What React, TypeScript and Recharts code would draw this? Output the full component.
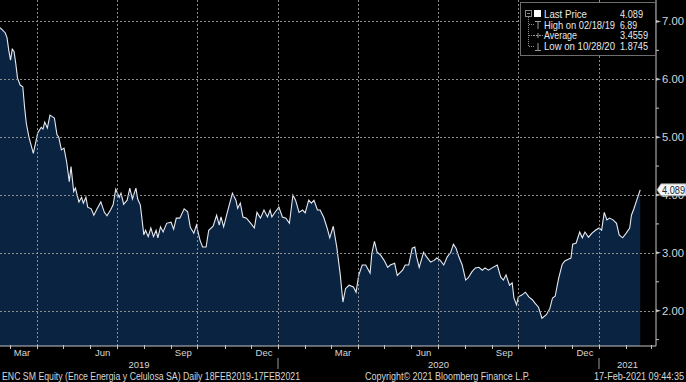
import React from 'react'
import { AreaChart, Area, XAxis, YAxis } from 'recharts'

// ENC SM Equity, daily close, day 0 = 18 Feb 2019
const days = [
  0, 3, 6, 8, 10, 12, 14, 16, 18, 20,
  23, 26, 28, 30, 33, 38, 43, 47, 49, 51,
  54, 57, 60, 62, 65, 67, 70, 73, 76, 79,
  81, 84, 86, 90, 93, 95, 98, 100, 104, 107,
  111, 115, 119, 122, 126, 129, 132, 136, 138, 141,
  145, 148, 151, 155, 157, 160, 164, 166, 169, 172,
  175, 178, 180, 183, 186, 190, 195, 198, 201, 205,
  210, 214, 217, 221, 224, 228, 231, 235, 238, 243,
  247, 250, 252, 255, 259, 265, 269, 271, 274, 277,
  281, 286, 290, 293, 297, 301, 305, 308, 310, 314,
  318, 322, 326, 330, 334, 337, 341, 345, 348, 352,
  355, 358, 362, 365, 369, 373, 376, 380, 384, 388,
  391, 394, 398, 403, 406, 409, 413, 417, 422, 424,
  427, 430, 434, 438, 442, 445, 450, 453, 459, 462,
  466, 470, 473, 475, 478, 483, 486, 491, 495, 498,
  502, 506, 510, 514, 517, 520, 523, 527, 531, 534,
  538, 542, 546, 550, 553, 557, 561, 567, 571, 574,
  577, 581, 584, 586, 589, 591, 595, 599, 603, 607,
  610, 614, 618, 623, 627, 630, 633, 637, 641, 644,
  648, 651, 653, 657, 661, 664, 667, 671, 675, 679,
  683, 686, 689, 692, 695, 699, 703, 706, 710, 714,
  718, 720, 723, 726, 730,
]

const prices = [
  6.89, 6.85, 6.80, 6.72, 6.50, 6.33, 6.52, 6.48, 6.27, 6.02,
  5.90, 5.87, 5.52, 5.24, 5.00, 4.72, 5.07, 5.17, 5.14, 5.26,
  5.16, 5.38, 5.35, 5.33, 5.04, 5.00, 4.78, 4.81, 4.57, 4.23,
  4.49, 4.06, 4.12, 3.88, 3.96, 3.86, 3.96, 3.79, 3.76, 3.65,
  3.77, 3.88, 3.70, 3.64, 3.74, 3.83, 4.10, 3.96, 4.03, 3.84,
  3.91, 4.12, 3.93, 4.12, 3.93, 3.83, 3.31, 3.39, 3.28, 3.43,
  3.28, 3.39, 3.26, 3.45, 3.36, 3.51, 3.53, 3.41, 3.60, 3.60,
  3.76, 3.71, 3.44, 3.34, 3.48, 3.22, 3.10, 3.10, 3.39, 3.46,
  3.65, 3.48, 3.62, 3.45, 3.69, 4.03, 3.91, 3.77, 3.86, 3.62,
  3.60, 3.51, 3.43, 3.70, 3.60, 3.74, 3.62, 3.74, 3.62, 3.71,
  3.79, 3.62, 3.60, 3.51, 4.00, 3.91, 3.70, 3.74, 3.69, 3.91,
  3.86, 3.91, 3.74, 3.74, 3.62, 3.43, 3.26, 3.46, 3.10, 2.62,
  2.15, 2.38, 2.44, 2.41, 2.32, 2.61, 2.79, 2.79, 2.65, 2.99,
  3.20, 3.01, 2.96, 2.87, 2.75, 2.79, 2.82, 2.61, 2.70, 2.79,
  2.79, 3.08, 3.10, 2.93, 2.75, 3.01, 2.94, 2.84, 2.87, 2.91,
  2.87, 2.79, 2.93, 3.01, 3.15, 3.08, 2.94, 2.79, 2.53, 2.57,
  2.67, 2.74, 2.75, 2.70, 2.74, 2.70, 2.74, 2.79, 2.58, 2.53,
  2.62, 2.44, 2.48, 2.22, 2.10, 2.24, 2.27, 2.32, 2.24, 2.19,
  2.13, 2.06, 1.87, 1.93, 2.04, 2.22, 2.25, 2.56, 2.80, 2.86,
  2.89, 2.91, 3.15, 3.17, 3.36, 3.26, 3.36, 3.27, 3.34, 3.39,
  3.43, 3.39, 3.70, 3.57, 3.60, 3.57, 3.51, 3.31, 3.26, 3.34,
  3.43, 3.65, 3.77, 3.91, 4.089,
]

// first of each month, as day offsets
const monthStarts = [11, 42, 72, 103, 133, 164, 195, 225, 256, 286, 317, 348, 377, 408, 438, 469, 499, 530, 561, 591, 622, 652, 683, 714, 742]
const monthLabels = ['Mar', 'Jun', 'Sep', 'Dec', 'Mar', 'Jun', 'Sep', 'Dec']
const monthLabelDays = [25, 117, 209, 301, 391, 483, 575, 667]
const quarterStarts = [42, 133, 225, 317, 408, 499, 591, 683]
const yearLabels = ['2019', '2020', '2021']
const yearStarts = [317, 683]

const priceTicks = [2, 3, 4, 5, 6, 7]
const minorTicks = [1.5, 2.5, 3.5, 4.5, 5.5, 6.5]
const lastPrice = 4.089

const legendLabels = ['Last Price', 'High on 02/18/19', 'Average', 'Low on 10/28/20']
const legendValues = ['4.089', '6.89', '3.4559', '1.8745']

const X_DOMAIN: [number, number] = [0, 748]
const Y_DOMAIN: [number, number] = [1.39, 7.37]
const FONT = '"Liberation Sans", Arial, sans-serif'
const TEXT = '#d6d6d6'
const AXIS = '#c4c4c4'
const GRID = '#8e8e8e'

const data = days.map((d, i) => ({ day: d, price: prices[i] }))

const yearBounds = [X_DOMAIN[0], ...yearStarts, X_DOMAIN[1]]
const yearMids = yearLabels.map((_, i) => (yearBounds[i] + yearBounds[i + 1]) / 2)

// month axis: tick marks, quarter gridlines and month names
const MonthTick = (props: any) => {
    const { x, y, payload } = props
    const i = monthLabelDays.indexOf(payload.value)
    if (i >= 0) {
        return (
            <text x={x} y={y + 10} textAnchor="middle" fill={TEXT} fontSize={9.5} fontFamily={FONT}>
                {monthLabels[i]}
            </text>
        )
    }
    const px = Math.round(x) + 0.5
    const isGrid = quarterStarts.indexOf(Number(payload.value)) >= 0
    return (
        <g>
            {isGrid ? (
                <line x1={px} x2={px} y1={0} y2={y} stroke={GRID} strokeWidth={1} strokeDasharray="2 2" />
            ) : null}
            <line x1={px} x2={px} y1={y - 1} y2={y + 3} stroke={AXIS} strokeWidth={1} />
        </g>
    )
}

const YearTick = (props: any) => {
    const { x, y, payload } = props
    const i = yearMids.indexOf(payload.value)
    if (i >= 0) {
        return (
            <text x={x} y={y + 10} textAnchor="middle" fill={TEXT} fontSize={9.5} fontFamily={FONT}>
                {yearLabels[i]}
            </text>
        )
    }
    return <line x1={x} x2={x} y1={y} y2={y + 11} stroke="#9a9a9a" strokeWidth={1} />
}

// price axis: major ticks with horizontal gridlines, minor ticks, last price tag
const PriceTick = (props: any) => {
    const { x, y, payload } = props
    const v = Number(payload.value)
    if (v === lastPrice) {
        return (
            <g>
                <path
                    d={`M${x + 1} ${y} L${x + 5} ${y - 6} L${x + 30} ${y - 6} L${x + 30} ${y + 6} L${x + 5} ${y + 6} Z`}
                    fill="#f4f4f4"
                    stroke="#9a9a9a"
                    strokeWidth={0.8}
                />
                <text x={x + 6} y={y + 4} fill="#1b2a3a" fontSize={10} fontFamily={FONT} textLength={23} lengthAdjust="spacingAndGlyphs">
                    {v.toFixed(3)}
                </text>
            </g>
        )
    }
    if (priceTicks.indexOf(v) >= 0) {
        const py = Math.round(y) + 0.5
        return (
            <g>
                <line x1={0} x2={x} y1={py} y2={py} stroke={GRID} strokeWidth={1} strokeDasharray="2 2" />
                <path d={`M${x} ${y - 1.5} L${x + 5} ${y} L${x} ${y + 1.5} Z`} fill={AXIS} />
                <text x={x + 6} y={y + 4} fill={TEXT} fontSize={10.5} fontFamily={FONT} textLength={22} lengthAdjust="spacingAndGlyphs">
                    {v.toFixed(2)}
                </text>
            </g>
        )
    }
    return <line x1={x} x2={x + 3} y1={y} y2={y} stroke={AXIS} strokeWidth={1} />
}

const labelWidths = [43, 71, 33, 71]
const valueWidths = [23, 17, 28, 28]

const Legend = () => (
    <svg width={136} height={54} style={{ position: 'absolute', left: 520, top: 2 }}>
        <rect x={0.5} y={0.5} width={135} height={53} fill="#000" stroke="#6e6e6e" />
        {/* tree lines */}
        <rect x={5.5} y={8.5} width={6} height={6} fill="none" stroke="#8a8a8a" />
        <line x1={7} x2={10} y1={11.5} y2={11.5} stroke="#8a8a8a" />
        <line x1={8.5} x2={8.5} y1={15} y2={45} stroke="#8a8a8a" strokeDasharray="1 1" />
        <line x1={9} x2={15} y1={22.5} y2={22.5} stroke="#8a8a8a" strokeDasharray="1 1" />
        <line x1={9} x2={13} y1={33.5} y2={33.5} stroke="#8a8a8a" strokeDasharray="1 1" />
        <line x1={9} x2={15} y1={44.5} y2={44.5} stroke="#8a8a8a" strokeDasharray="1 1" />
        {/* series icons */}
        <rect x={14} y={8} width={7} height={7} fill="#ffffff" />
        <line x1={15} x2={21} y1={19.5} y2={19.5} stroke="#9a9a9a" />
        <line x1={18} x2={18} y1={19.5} y2={27} stroke="#9a9a9a" />
        <line x1={13} x2={23} y1={33.5} y2={33.5} stroke="#9a9a9a" strokeDasharray="2 1" />
        <line x1={18} x2={18} y1={31} y2={36} stroke="#9a9a9a" />
        <line x1={18} x2={18} y1={41} y2={48.5} stroke="#9a9a9a" />
        <line x1={15} x2={21} y1={48.5} y2={48.5} stroke="#9a9a9a" />
        {legendLabels.map((label, i) => (
            <g key={label} fontFamily={FONT} fontSize={10.5} fill="#e8e8e8">
                <text x={24} y={15.8 + i * 10.8} textLength={labelWidths[i]} lengthAdjust="spacingAndGlyphs">{label}</text>
                <text x={100} y={15.8 + i * 10.8} textLength={valueWidths[i]} lengthAdjust="spacingAndGlyphs">{legendValues[i]}</text>
            </g>
        ))}
    </svg>
)

const Footer = () => (
    <svg width={686} height={12} style={{ position: 'absolute', left: 0, top: 370 }}>
        <g fontFamily={FONT} fontSize={10} fill={TEXT}>
            <text x={2} y={10} textLength={298} lengthAdjust="spacingAndGlyphs">ENC SM Equity (Ence Energia y Celulosa SA)  Daily 18FEB2019-17FEB2021</text>
            <text x={365} y={10} textLength={165} lengthAdjust="spacingAndGlyphs">Copyright© 2021 Bloomberg Finance L.P.</text>
            <text x={594} y={10} textLength={90} lengthAdjust="spacingAndGlyphs">17-Feb-2021 09:44:35</text>
        </g>
    </svg>
)

export default function App() {
    return (
        <div style={{ position: 'absolute', left: 0, top: 0, width: 686, height: 382, background: '#000', overflow: 'hidden' }}>
            <AreaChart width={686} height={370} data={data} margin={{ top: 0, right: 0, bottom: 0, left: 0 }}>
                <Area
                    xAxisId="m"
                    dataKey="price"
                    type="linear"
                    stroke="#e6eaf0"
                    strokeWidth={1.1}
                    fill="#0a2341"
                    fillOpacity={1}
                    dot={false}
                    activeDot={false}
                    isAnimationActive={false}
                />
                <XAxis
                    xAxisId="m"
                    dataKey="day"
                    type="number"
                    domain={X_DOMAIN}
                    allowDataOverflow
                    ticks={[...monthStarts, ...monthLabelDays].sort((a, b) => a - b)}
                    interval={0}
                    tick={MonthTick}
                    tickSize={0}
                    tickMargin={0}
                    tickLine={false}
                    axisLine={{ stroke: AXIS }}
                    height={12}
                />
                <XAxis
                    xAxisId="y"
                    dataKey="day"
                    type="number"
                    domain={X_DOMAIN}
                    allowDataOverflow
                    ticks={[...yearStarts, ...yearMids].sort((a, b) => a - b)}
                    interval={0}
                    tick={YearTick}
                    tickSize={0}
                    tickMargin={0}
                    tickLine={false}
                    axisLine={false}
                    height={12}
                />
                <YAxis
                    orientation="right"
                    width={30}
                    domain={Y_DOMAIN}
                    allowDataOverflow
                    ticks={[...minorTicks, ...priceTicks, lastPrice].sort((a, b) => a - b)}
                    interval={0}
                    tick={PriceTick}
                    tickSize={0}
                    tickMargin={0}
                    tickLine={false}
                    axisLine={{ stroke: AXIS }}
                />
            </AreaChart>
            <Legend />
            <Footer />
        </div>
    )
}
